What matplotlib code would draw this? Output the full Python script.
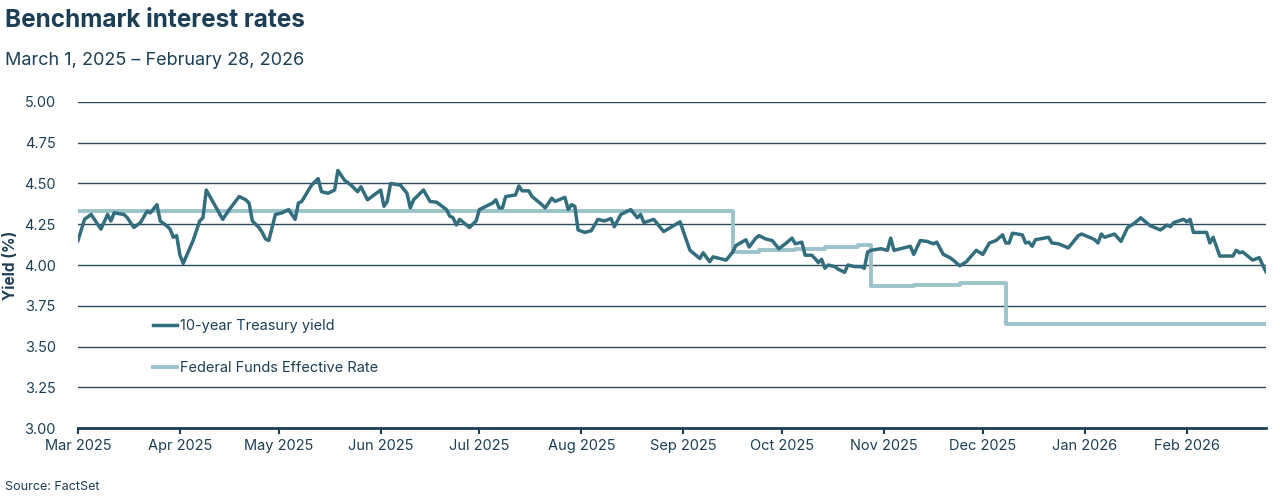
import pandas as pd
import matplotlib
matplotlib.use("Agg")
import matplotlib.pyplot as plt
import matplotlib.dates as mdates

# 10-year Treasury yield (%)
tsy_dates = [
    "2025-03-01", "2025-03-03", "2025-03-05", "2025-03-08", "2025-03-10", "2025-03-11",
    "2025-03-12", "2025-03-15", "2025-03-16", "2025-03-18", "2025-03-20", "2025-03-22",
    "2025-03-23", "2025-03-25", "2025-03-26", "2025-03-28", "2025-03-29", "2025-03-30",
    "2025-03-31", "2025-04-01", "2025-04-02", "2025-04-05", "2025-04-07", "2025-04-08",
    "2025-04-09", "2025-04-14", "2025-04-16", "2025-04-19", "2025-04-21", "2025-04-22",
    "2025-04-23", "2025-04-25", "2025-04-26", "2025-04-27", "2025-04-28", "2025-04-30",
    "2025-05-02", "2025-05-04", "2025-05-06", "2025-05-07", "2025-05-08", "2025-05-11",
    "2025-05-13", "2025-05-14", "2025-05-16", "2025-05-18", "2025-05-19", "2025-05-21",
    "2025-05-23", "2025-05-25", "2025-05-26", "2025-05-28", "2025-06-01", "2025-06-02",
    "2025-06-03", "2025-06-04", "2025-06-07", "2025-06-09", "2025-06-10", "2025-06-11",
    "2025-06-14", "2025-06-16", "2025-06-18", "2025-06-19", "2025-06-21", "2025-06-22",
    "2025-06-23", "2025-06-24", "2025-06-25", "2025-06-28", "2025-06-30", "2025-07-01",
    "2025-07-05", "2025-07-06", "2025-07-07", "2025-07-08", "2025-07-09", "2025-07-12",
    "2025-07-13", "2025-07-14", "2025-07-16", "2025-07-17", "2025-07-20", "2025-07-21",
    "2025-07-23", "2025-07-24", "2025-07-27", "2025-07-28", "2025-07-29", "2025-07-30",
    "2025-07-31", "2025-08-02", "2025-08-04", "2025-08-06", "2025-08-08", "2025-08-10",
    "2025-08-11", "2025-08-13", "2025-08-16", "2025-08-18", "2025-08-19", "2025-08-20",
    "2025-08-23", "2025-08-26", "2025-08-31", "2025-09-01", "2025-09-03", "2025-09-06",
    "2025-09-07", "2025-09-09", "2025-09-10", "2025-09-14", "2025-09-16", "2025-09-17",
    "2025-09-20", "2025-09-21", "2025-09-23", "2025-09-24", "2025-09-26", "2025-09-28",
    "2025-09-30", "2025-10-02", "2025-10-04", "2025-10-05", "2025-10-07", "2025-10-08",
    "2025-10-10", "2025-10-11", "2025-10-12", "2025-10-13", "2025-10-14", "2025-10-15",
    "2025-10-17", "2025-10-18", "2025-10-20", "2025-10-21", "2025-10-23", "2025-10-25",
    "2025-10-26", "2025-10-27", "2025-10-28", "2025-10-31", "2025-11-02", "2025-11-03",
    "2025-11-04", "2025-11-09", "2025-11-10", "2025-11-12", "2025-11-14", "2025-11-16",
    "2025-11-17", "2025-11-19", "2025-11-21", "2025-11-22", "2025-11-24", "2025-11-26",
    "2025-11-29", "2025-12-01", "2025-12-03", "2025-12-05", "2025-12-07", "2025-12-08",
    "2025-12-09", "2025-12-10", "2025-12-13", "2025-12-14", "2025-12-15", "2025-12-16",
    "2025-12-17", "2025-12-21", "2025-12-22", "2025-12-24", "2025-12-27", "2025-12-28",
    "2025-12-30", "2025-12-31", "2026-01-03", "2026-01-04", "2026-01-05", "2026-01-06",
    "2026-01-07", "2026-01-10", "2026-01-12", "2026-01-14", "2026-01-16", "2026-01-18",
    "2026-01-20", "2026-01-21", "2026-01-24", "2026-01-26", "2026-01-27", "2026-01-28",
    "2026-01-31", "2026-02-01", "2026-02-02", "2026-02-03", "2026-02-07", "2026-02-08",
    "2026-02-09", "2026-02-11", "2026-02-15", "2026-02-16", "2026-02-17", "2026-02-18",
    "2026-02-21", "2026-02-23", "2026-02-25",
]
tsy_values = [
    4.15, 4.28, 4.31, 4.22, 4.31, 4.27,
    4.32, 4.31, 4.29, 4.23, 4.26, 4.33,
    4.32, 4.37, 4.27, 4.24, 4.22, 4.17,
    4.18, 4.06, 4.01, 4.15, 4.27, 4.29,
    4.46, 4.28, 4.34, 4.42, 4.40, 4.38,
    4.27, 4.23, 4.20, 4.16, 4.15, 4.31,
    4.32, 4.34, 4.28, 4.38, 4.39, 4.49,
    4.53, 4.45, 4.44, 4.46, 4.58, 4.52,
    4.49, 4.45, 4.48, 4.40, 4.46, 4.36,
    4.39, 4.50, 4.49, 4.44, 4.35, 4.40,
    4.46, 4.39, 4.385, 4.37, 4.34, 4.30,
    4.29, 4.245, 4.28, 4.23, 4.27, 4.34,
    4.38, 4.40, 4.35, 4.35, 4.42, 4.43,
    4.485, 4.455, 4.455, 4.42, 4.37, 4.35,
    4.41, 4.39, 4.415, 4.34, 4.37, 4.36,
    4.215, 4.20, 4.21, 4.28, 4.27, 4.285,
    4.235, 4.31, 4.34, 4.29, 4.31, 4.26,
    4.28, 4.205, 4.265, 4.205, 4.09, 4.04,
    4.075, 4.02, 4.05, 4.03, 4.08, 4.12,
    4.155, 4.11, 4.165, 4.18, 4.16, 4.15,
    4.10, 4.13, 4.165, 4.13, 4.14, 4.06,
    4.06, 4.04, 4.015, 4.035, 3.98, 4.00,
    3.99, 3.975, 3.955, 4.00, 3.99, 3.99,
    3.98, 4.08, 4.09, 4.10, 4.09, 4.165,
    4.09, 4.115, 4.065, 4.15, 4.145, 4.13,
    4.14, 4.065, 4.045, 4.03, 3.995, 4.02,
    4.09, 4.065, 4.135, 4.15, 4.185, 4.135,
    4.135, 4.195, 4.185, 4.135, 4.14, 4.115,
    4.155, 4.17, 4.135, 4.13, 4.105, 4.13,
    4.18, 4.19, 4.165, 4.155, 4.135, 4.19,
    4.17, 4.19, 4.145, 4.23, 4.255, 4.29,
    4.255, 4.24, 4.215, 4.245, 4.235, 4.26,
    4.28, 4.265, 4.28, 4.20, 4.20, 4.135,
    4.17, 4.055, 4.055, 4.09, 4.075, 4.08,
    4.03, 4.045, 3.96,
]

# Federal Funds Effective Rate, value from each date onward (%)
ffr_dates = ["2025-03-01", "2025-09-16", "2025-09-24", "2025-10-05", "2025-10-14",
             "2025-10-24", "2025-10-28", "2025-11-10", "2025-11-24", "2025-12-08",
             "2026-02-25"]
ffr_values = [4.33, 4.08, 4.09, 4.10, 4.11, 4.12, 3.87, 3.88, 3.89, 3.64, 3.64]

y_ticks = [3.00, 3.25, 3.50, 3.75, 4.00, 4.25, 4.50, 4.75, 5.00]

navy = "#1c3f56"
dark_teal = "#336e7e"
light_teal = "#9cc3c9"

plt.rcParams["font.family"] = ["Inter", "DejaVu Sans"]

tsy = pd.Series(tsy_values, index=pd.to_datetime(tsy_dates))
ffr = pd.Series(ffr_values, index=pd.to_datetime(ffr_dates))

fig = plt.figure(figsize=(12.8, 4.97), dpi=100)
ax = fig.add_axes([0.0609, 0.1388, 0.928, 0.656])

ax.plot(ffr.index, ffr.values, drawstyle="steps-post", color=light_teal, lw=2.8,
        label="Federal Funds Effective Rate", zorder=3)
ax.plot(tsy.index, tsy.values, color=dark_teal, lw=2.5,
        label="10-year Treasury yield", zorder=4)

ax.set_ylim(3.0, 5.0)
ax.set_yticks(y_ticks)
ax.set_yticklabels([f"{v:.2f}" for v in y_ticks])
ax.set_xlim(tsy.index[0], tsy.index[-1])
ax.xaxis.set_major_locator(mdates.MonthLocator())
ax.xaxis.set_major_formatter(mdates.DateFormatter("%b %Y"))

ax.grid(axis="y", color="#2c4a5e", lw=1.0)
ax.set_axisbelow(True)
for s in ["top", "right", "left"]:
    ax.spines[s].set_visible(False)
ax.spines["bottom"].set_color(navy)
ax.spines["bottom"].set_linewidth(2.0)
ax.tick_params(axis="y", length=0, pad=16, labelsize=10.5, labelcolor=navy)
ax.tick_params(axis="x", length=4, width=1.5, color=navy, pad=4, labelsize=10.5,
               labelcolor=navy)

ax.set_ylabel("Yield (%)", fontsize=11, fontweight="bold", color=navy, labelpad=4)

h, l = ax.get_legend_handles_labels()
leg = ax.legend(h[::-1], l[::-1], loc="upper left", bbox_to_anchor=(0.058, 0.352),
                frameon=False, fontsize=10.5, handlelength=1.7, handletextpad=0.15,
                labelspacing=1.9, borderaxespad=0)
for t in leg.get_texts():
    t.set_color(navy)

fig.text(0.004, 0.958, "Benchmark interest rates", fontsize=17.5, fontweight="bold",
         color=navy, va="center")
fig.text(0.004, 0.879, "March 1, 2025 \u2013 February 28, 2026", fontsize=13,
         color=navy, va="center")
fig.text(0.004, 0.02, "Source: FactSet", fontsize=9, color=navy, va="center")

fig.savefig("out.png", dpi=100)
